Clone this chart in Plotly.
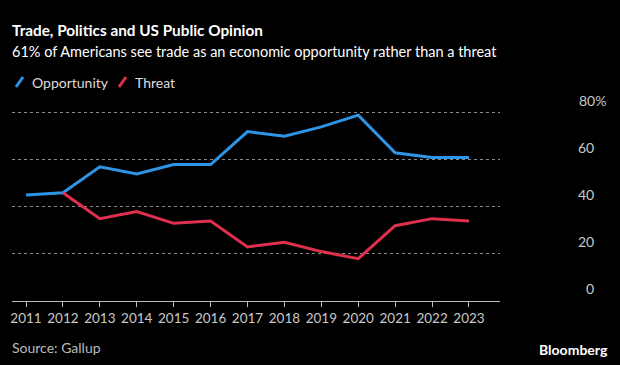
import plotly.graph_objects as go

years = list(range(2011, 2024))
opportunity = [45, 46, 57, 54, 58, 58, 72, 70, 74, 79, 63, 61, 61]
threat = [None, 46, 35, 38, 33, 34, 23, 25, 21, 18, 32, 35, 34]
y_ticks = [0, 20, 40, 60, 80]
series_names = ["Opportunity", "Threat"]

BLUE = "#2E95E6"
RED = "#E0304E"
FONT = "Lato, sans-serif"

PLOT_L, PLOT_R, PLOT_T, PLOT_B = 12, 120, 101, 64

fig = go.Figure()
fig.add_trace(go.Scatter(x=years, y=opportunity, mode="lines", name=series_names[0],
                         line=dict(color=BLUE, width=3), showlegend=False, hoverinfo="skip"))
fig.add_trace(go.Scatter(x=years, y=threat, mode="lines", name=series_names[1],
                         line=dict(color=RED, width=3), showlegend=False, hoverinfo="skip"))

def ann(text, x, y, xanchor, yanchor, size, color, xshift=0, yshift=0, xref="paper", yref="paper"):
    return dict(text=text, xref=xref, yref=yref, x=x, y=y, xanchor=xanchor, yanchor=yanchor,
                xshift=xshift, yshift=yshift, showarrow=False, borderpad=0, borderwidth=0,
                font=dict(size=size, color=color, family=FONT))

annotations = [
    ann("<b>Trade, Politics and US Public Opinion</b>", 0, 1, "left", "middle", 15.3, "#FFFFFF", yshift=71),
    ann("61% of Americans see trade as an economic opportunity rather than a threat", 0, 1, "left", "middle", 14.5, "#FFFFFF", yshift=50),
    ann("Source: Gallup", 0, 0, "left", "middle", 14, "#BBBBBB", yshift=-46),
    ann("<b>Bloomberg</b>", 1, 0, "right", "middle", 14, "#FFFFFF", xshift=108, yshift=-48),
]
# custom legend: slanted icons + labels
legend_text_x = [32, 135]
shapes = []
h = 365 - PLOT_T - PLOT_B
w = 620 - PLOT_L - PLOT_R
for name, col, tx in zip(series_names, [BLUE, RED], legend_text_x):
    annotations.append(ann(name, 0, 1, "left", "middle", 14, "#DDDDDD", xshift=tx - PLOT_L, yshift=19))
    x0 = (tx - 16 - PLOT_L) / w
    x1 = (tx - 9 - PLOT_L) / w
    shapes.append(dict(type="line", xref="paper", yref="paper", x0=x0, x1=x1,
                       y0=1 + 14 / h, y1=1 + 24 / h, line=dict(color=col, width=3)))

for v in y_ticks:
    label = f"{v}%" if v == y_ticks[-1] else str(v)
    shift = 106 if v == y_ticks[-1] else 94
    annotations.append(ann(label, 1, v, "right", "bottom", 14, "#C8C8C8",
                           xshift=shift, yshift=4, yref="y"))

fig.update_layout(
    width=620, height=365,
    paper_bgcolor="#000000", plot_bgcolor="#000000",
    margin=dict(l=PLOT_L, r=PLOT_R, t=PLOT_T, b=PLOT_B, autoexpand=False),
    font=dict(family=FONT, color="#FFFFFF"),
    showlegend=False,
    xaxis=dict(range=[2010.62, 2023.84], tickmode="array", tickvals=years,
               ticktext=[str(y) for y in years], showgrid=False, zeroline=False,
               showline=True, linecolor="#BBBBBB", linewidth=1,
               ticks="outside", ticklen=5, tickcolor="#BBBBBB", tickangle=0,
               tickfont=dict(size=13.5, color="#C8C8C8", family=FONT), fixedrange=True),
    yaxis=dict(range=[0, 85], tickvals=y_ticks, showticklabels=False, showgrid=True,
               gridcolor="#8A8A8A", griddash="dot", gridwidth=1, zeroline=False,
               showline=False, fixedrange=True),
    annotations=annotations,
    shapes=shapes,
)

fig.write_html("out.html", config={"displayModeBar": False},
               post_script="document.body.style.margin='0';document.body.style.overflow='hidden';")
